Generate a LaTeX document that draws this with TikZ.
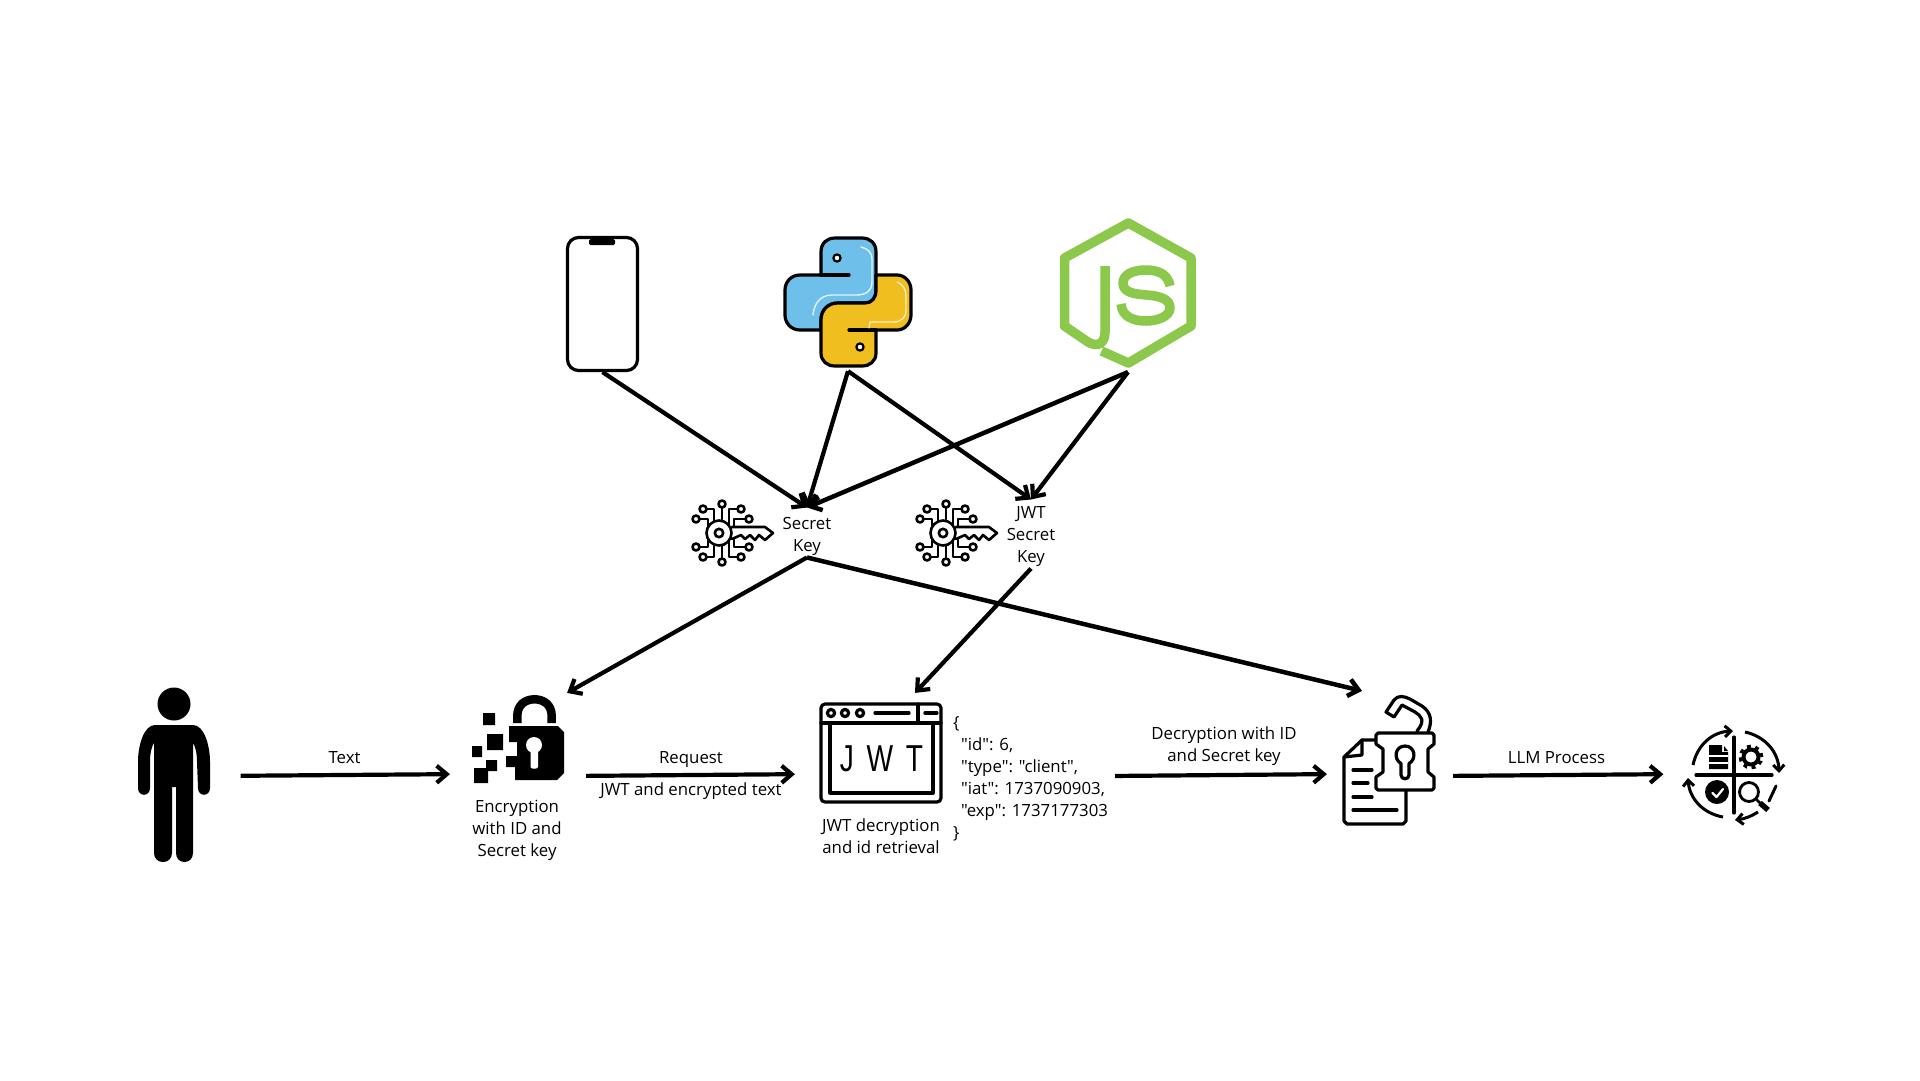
\documentclass[tikz,border=0pt]{standalone}
\usepackage{fontspec}
\setmainfont{Open Sans}
\newfontfamily\jsonfont{Open Sans}
\newfontfamily\jwtfont{Liberation Sans}
\usetikzlibrary{arrows.meta}

\definecolor{pyblue}{HTML}{6EBFE9}
\definecolor{pyyellow}{HTML}{F0BE1E}
\definecolor{jsgreen}{HTML}{8CC84B}

\tikzset{
  icon/.style={-,draw=black,line width=3.2pt,line join=round,line cap=round},
  box/.style={inner sep=0pt,minimum width=#1},
  txt/.style={inner sep=0pt,align=center,font=\fontsize{16.8}{22}\selectfont},
  lbl/.style={txt,yshift=6pt},
  small/.style={-{Straight Barb[length=6pt,width=11pt]},draw=black,line width=3pt}
}

\newcommand{\keyicon}[1]{
  \begin{scope}[shift={(#1)},icon,line width=2.6pt]
    \draw (0,0) circle (12.5pt);
    \draw (0,0) circle (4.2pt);
    \draw (13,-6) -- (46,-6) -- (54,0) -- (46,7) -- (40,2) -- (36,7) -- (31,2) -- (26,6) -- (22,2) -- (13,6);
    \draw (3,-25) -- (3,-12.5);
    \draw (-12.5,-24) -- (-5,-24) -- (-5,-11.5);
    \draw (18.5,-24) -- (10,-24) -- (10,-8);
    \draw (-19.5,-14) -- (-11,-14) -- (-11,-6);
    \draw (26.5,-14) -- (15,-14) -- (15,-6);
    \draw (3,25) -- (3,12.5);
    \draw (-12.5,24) -- (-5,24) -- (-5,11.5);
    \draw (18.5,24) -- (10,24) -- (10,8);
    \draw (-19.5,14) -- (-11,14) -- (-11,6);
    \draw (26.5,14) -- (15,14) -- (15,7);
    \draw (3,-29) circle (3.5pt) (-16,-24) circle (3.5pt) (22,-24) circle (3.5pt)
          (-23,-14) circle (3.5pt) (30,-14) circle (3.5pt) (-23,14) circle (3.5pt)
          (30,14) circle (3.5pt) (-16,24) circle (3.5pt) (22,24) circle (3.5pt)
          (3,29) circle (3.5pt);
  \end{scope}
}

\begin{document}
\begin{tikzpicture}[->,>={Straight Barb[length=10pt,width=17pt]},line width=4.2pt,
                    x=1pt,y=-1pt]
  \useasboundingbox (0,0) rectangle (1920,1080);

  % top row
  \node [box=69pt,minimum height=132pt] (phone) at (602.5,304) {};
  \node [box=126pt,minimum height=131pt] (python) at (848,303.5) {};
  \node [box=136pt,minimum height=152pt] (js) at (1128,294) {};

  % keys
  \node [txt,minimum height=41pt] (skey) at (807,532.5) {\rule{0pt}{19.7pt}Secret\\Key};
  \node [txt,minimum height=64pt] (jwtkey) at (1031,534) {\rule{0pt}{16.8pt}JWT\\Secret\\Key};

  % bottom row
  \node [box=74pt,minimum height=174pt] (user) at (174,775) {};
  \node [box=95pt,minimum height=160pt] (lockenc) at (519.5,775) {};
  \node [box=124pt,minimum height=160pt] (window) at (881,775) {};
  \node [box=93pt,minimum height=164pt] (unlock) at (1389.5,775) {};
  \node [box=95pt,minimum height=96pt] (llm) at (1734.5,775) {};

  \node [txt] (enccap) at (517,830.2) {Encryption\\with ID and\\Secret key};
  \node [txt] (jwtcap) at (881,836) {JWT decryption\\and id retrieval};
  \node [txt,align=left,anchor=north west,font=\jsonfont\fontsize{16.8}{22}\selectfont] (json) at (951,714)
    {\{\\\hspace*{8pt}"id": 6,\\\hspace*{8pt}"type": "client",\\\hspace*{8pt}"iat": 1737090903,\\\hspace*{8pt}"exp": 1737177303\\\}};

  % person
  \fill (174,704) circle (16.5pt);
  \fill (155,725) -- (193,725) .. controls (204,725) and (210,745) .. (210,762) -- (210,788)
    .. controls (210,797) and (198,797) .. (198,788) -- (197,762) .. controls (197,752) and (195,746) .. (193,743)
    -- (193,853) .. controls (193,865) and (176,865) .. (176,853) -- (176,787) -- (172,787) -- (172,853)
    .. controls (172,865) and (154,865) .. (154,853) -- (154,743) .. controls (152,746) and (150,752) .. (150,762)
    -- (150,788) .. controls (150,797) and (138,797) .. (138,788) -- (138,762) .. controls (138,745) and (144,725) .. (155,725) -- cycle;

  % phone
  \draw [icon,rounded corners=11pt] ([shift={(1.6,1.6)}]phone.north west) rectangle ([shift={(-1.6,-1.6)}]phone.south east);
  \fill [rounded corners=1.5pt] (589,239) rectangle (615,245);

  % python
  \filldraw [icon,fill=pyblue] (821,275) -- (821,252) .. controls (821,243) and (827,238) .. (835,238) -- (862,238)
    .. controls (870,238) and (876,243) .. (876,252) -- (876,290) .. controls (876,298) and (872,303) .. (865,303)
    -- (838,303) .. controls (828,303) and (821,310) .. (821,320) -- (821,330) -- (800,330)
    .. controls (791,330) and (785,323) .. (785,315) -- (785,290) .. controls (785,282) and (791,275) .. (800,275) -- cycle;
  \filldraw [icon,fill=pyyellow] (876,275) -- (897,275) .. controls (905,275) and (911,282) .. (911,290) -- (911,315)
    .. controls (911,323) and (905,330) .. (897,330) -- (876,330) -- (876,353) .. controls (876,361) and (870,366) .. (862,366)
    -- (835,366) .. controls (827,366) and (821,361) .. (821,353) -- (821,320) .. controls (821,310) and (828,303) .. (838,303)
    -- (865,303) .. controls (872,303) and (876,298) .. (876,290) -- cycle;
  \draw [icon] (821,275) -- (849,275) (849,330) -- (876,330);
  \draw [icon,line width=2.2pt,fill=white] (837,258) circle (3.6pt) (860,347) circle (3.6pt);
  \draw [icon,draw=white!80!pyblue,line width=1.4pt] (861,247) .. controls (868,249) and (872,252) .. (872,260) -- (872,282)
    .. controls (872,291) and (866,295) .. (856,295) -- (832,295) .. controls (820,295) and (814,304) .. (813,315);
  \draw [icon,draw=white!70!pyyellow,line width=1.4pt] (897,282) .. controls (904,285) and (906,290) .. (906,297) -- (906,310)
    .. controls (906,318) and (901,322) .. (893,322) -- (870,322) -- (869,328);

  % js
  \draw [icon,draw=jsgreen,line width=9.5pt,line join=round,line cap=butt] (1101.5,351) -- (1128.4,363) -- (1191,326) -- (1191,258) -- (1128.4,223)
    -- (1064.5,258) -- (1064.5,326) -- (1088,342) .. controls (1098,348) and (1105,343) .. (1105,332) -- (1105,266);
  \draw [icon,draw=jsgreen,line width=9.5pt,line cap=butt] (1170,286) .. controls (1168,274) and (1158,270) .. (1146,270)
    .. controls (1132,270) and (1123,275) .. (1123,283) .. controls (1123,293) and (1135,294) .. (1147,295)
    .. controls (1160,296) and (1170,299) .. (1170,308) .. controls (1170,316) and (1158,321) .. (1146,321)
    .. controls (1132,321) and (1122,316) .. (1121,304);

  % key icons
  \keyicon{719,533}
  \keyicon{943,533}

  % encryption lock
  \draw [icon,line width=8.5pt,line cap=butt] (517.3,723) -- (517.3,716) .. controls (517.3,705) and (525,699.3) .. (534.5,699.3)
    .. controls (544,699.3) and (551.7,705) .. (551.7,716) -- (551.7,723);
  \fill (509,726) -- (558,726) -- (564,732) -- (564,773) -- (557,780) -- (515,780) -- (515,767) -- (506,767) -- (506,756)
    -- (517,756) -- (517,742) -- (509,742) -- cycle;
  \fill [white] (534,745) circle (8pt);
  \fill [white,rounded corners=2pt] (530.5,748) rectangle (538,768.5);
  \fill (483,713) rectangle (495,725) (487,734) rectangle (503,750) (472,746) rectangle (482,757)
        (486,760) rectangle (497,771) (474,768) rectangle (488,783);

  % jwt window
  \draw [icon,rounded corners=4pt] (821,704) rectangle (941,802);
  \draw [icon] (821,723) -- (941,723) (918,704) -- (918,723) (875,713) -- (909,713) (925,713) -- (937,713);
  \draw [icon] (830,723) -- (830,793) -- (933,793) -- (933,723);
  \draw [icon] (831,713) circle (3.6pt) (845,713) circle (3.6pt) (860,713) circle (3.6pt);
  \node [inner sep=0pt,xscale=.75,font=\jwtfont\fontsize{37.5}{37.5}\selectfont] (jwtlogo) at (881.5,759) {J\kern17pt W\kern17pt T};

  % document and open lock
  \draw [icon] (1377,740) -- (1362,740) -- (1344,757) -- (1344,821) -- (1347,824) -- (1403,824) -- (1406,821) -- (1406,790);
  \draw [icon] (1362,740) -- (1362,755) -- (1344,757);
  \draw [icon] (1353,770) -- (1372,770) (1353,783) -- (1368,783) (1353,797) -- (1372,797) (1353,810) -- (1397,810);
  \filldraw [icon,fill=white] (1417,731) .. controls (1426,720) and (1421,716) .. (1415,712) -- (1402,705) -- (1394,717) -- (1386,712)
    -- (1394,700) .. controls (1398,695) and (1404,696) .. (1410,699) -- (1422,706) .. controls (1432,713) and (1432,722) .. (1428,732);
  \filldraw [icon,fill=white] (1378,733) -- (1432,733) -- (1434,735) -- (1434,744) -- (1428,749) -- (1428,772) -- (1434,777) -- (1434,788)
    -- (1432,790) -- (1378,790) -- (1376,788) -- (1376,777) -- (1383,772) -- (1383,749) -- (1376,744) -- (1376,735) -- cycle;
  \draw [icon] (1401,763.5) .. controls (1393,759) and (1395,746) .. (1405,746) .. controls (1415,746) and (1417,759) .. (1409,763.5)
    -- (1409,775) .. controls (1409,780) and (1401,780) .. (1401,775) -- cycle;

  % llm cycle
  \draw [icon] (1696,775) -- (1772,775) (1734,737) -- (1734,813);
  \draw [small] (1693,765) to [bend left=38] (1733,731);
  \draw [small] (1745,732) to [bend left=38] (1779,773);
  \draw [icon,line width=3pt] (1776,786) -- (1769,801);
  \draw [small] (1758,812) to [bend left=12] (1735,820);
  \draw [small] (1723,817) to [bend left=38] (1688,778);
  \fill (1709,745) -- (1722,745) -- (1722,752) -- (1728,752) -- (1728,769) -- (1709,769) -- cycle;
  \fill (1724,746) -- (1728,751) -- (1724,751) -- cycle;
  \draw [icon,draw=white,line width=1.6pt,line cap=butt] (1709,756) -- (1728,756) (1709,763) -- (1728,763);
  \draw [icon,line width=3pt,dash pattern=on 4pt off 4.6pt,line cap=butt] (1751,757) circle (10.9pt);
  \draw [icon,line width=4pt] (1751,757) circle (7.5pt);
  \fill (1717,792) circle (12pt);
  \draw [icon,draw=white,line width=2.2pt] (1712.5,793) -- (1716.5,797) -- (1723,789);
  \draw [icon,line width=2.8pt] (1749,792) circle (9.5pt);
  \draw [icon,line width=2.8pt] (1756,799) -- (1760,803);
  \draw [icon,line width=5.5pt,line cap=butt] (1760,803) -- (1768,810);

  % connectors
  \path (phone.south) edge (skey.north);
  \path (python.south) edge (skey.north);
  \path (python.south) edge (jwtkey.north);
  \path (js.south) edge [line width=4.5pt] (skey.north);
  \path (js.south) edge (jwtkey.north);

  \path (skey.south) edge ([xshift=-2pt]lockenc.north east);
  \path (skey.south) edge [line width=4.5pt] ([xshift=-27.5pt]unlock.north);
  \path (jwtkey.south) edge ([xshift=34pt]window.north);

  \path ([yshift=-1pt]user.east) edge [shorten <=27.5pt,shorten >=20pt] node [lbl,above,xshift=3pt,yshift=3.7pt] (textlbl) {Text} ([yshift=1pt]lockenc.west);
  \path ([yshift=-1pt]lockenc.east) edge [shorten <=17pt,shorten >=22pt]
    node [lbl,above,xshift=-2pt,yshift=-1pt] (reqlbl) {Request}
    node [txt,below,yshift=-6pt,xshift=-2pt] (reqtext) {JWT and encrypted text} ([yshift=1pt]window.west);
  \path ([yshift=-1pt]json.east |- window.east) edge [shorten <=5pt,shorten >=14pt] node [lbl,above,xshift=-1.5pt,yshift=1pt] (declbl) {Decryption with ID\\and Secret key} ([yshift=1pt]unlock.west);
  \path ([yshift=-1pt]unlock.east) edge [shorten <=15pt,shorten >=21.5pt] node [lbl,above,xshift=-5pt,yshift=3.7pt] (llmlbl) {LLM Process} ([yshift=1pt]llm.west);
\end{tikzpicture}
\end{document}
